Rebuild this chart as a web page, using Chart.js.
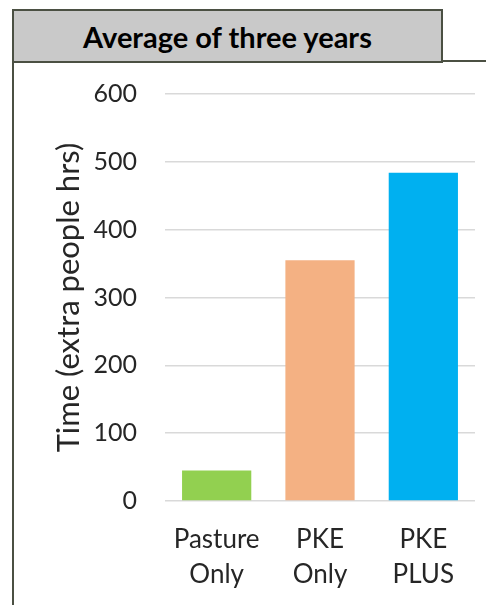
<!DOCTYPE html>
<html>
<head>
<meta charset="utf-8">
<script src="https://cdn.jsdelivr.net/npm/chart.js@4"></script>
<style>
  body { margin: 0; background: #fff; }
  #wrap { position: relative; width: 486px; height: 605px; overflow: hidden; }
  #frame { position: absolute; left: 12px; top: 60px; width: 480px; height: 560px;
           border-left: 2px solid #4b5043; border-top: 2px solid #4b5043; }
  #title { position: absolute; left: 12px; top: 9px; width: 427px; height: 50px;
           background: #c9c9c9; border: 2px solid #4b5043;
           font: bold 29px Lato, "Open Sans", sans-serif; color: #000;
           display: flex; align-items: center; justify-content: center; }
  #box { position: absolute; left: 0; top: 0; width: 486px; height: 605px; }
</style>
</head>
<body>
<div id="wrap">
  <div id="frame"></div>
  <div id="title">Average of three years</div>
  <div id="box"><canvas id="chart"></canvas></div>
</div>
<script>
const categories = [['Pasture', 'Only'], ['PKE', 'Only'], ['PKE', 'PLUS']];
const timeValues = [45, 355, 484];
const barColors = ['#92d050', '#f4b183', '#00b0f0'];
const yTicks = [0, 100, 200, 300, 400, 500, 600];

new Chart(document.getElementById('chart'), {
  type: 'bar',
  data: {
    labels: categories,
    datasets: [{
      data: timeValues,
      backgroundColor: barColors,
      barPercentage: 0.67,
      categoryPercentage: 1
    }]
  },
  options: {
    responsive: true,
    maintainAspectRatio: false,
    animation: false,
    layout: { padding: { left: 0, right: 11, top: 94, bottom: 0 } },
    plugins: { legend: { display: false }, tooltip: { enabled: false } },
    scales: {
      x: {
        grid: { display: false },
        border: { display: false },
        ticks: { color: '#262626', font: { family: 'Lato', size: 26, lineHeight: 1.35 }, padding: 13 },
        afterFit: s => { s.height = 605 - 501; }
      },
      y: {
        min: 0, max: 600,
        afterBuildTicks: s => { s.ticks = yTicks.map(v => ({ value: v })); },
        grid: { color: '#d9d9d9', lineWidth: 1.5, drawTicks: false },
        border: { display: false },
        ticks: { color: '#262626', font: { family: 'Lato', size: 25 }, padding: 28 },
        title: { display: true, text: 'Time (extra people hrs)', color: '#262626',
                 font: { family: 'Lato', size: 31 }, padding: { top: 50, bottom: 0 } },
        afterFit: s => { s.width = 165; }
      }
    }
  }
});
</script>
</body>
</html>
